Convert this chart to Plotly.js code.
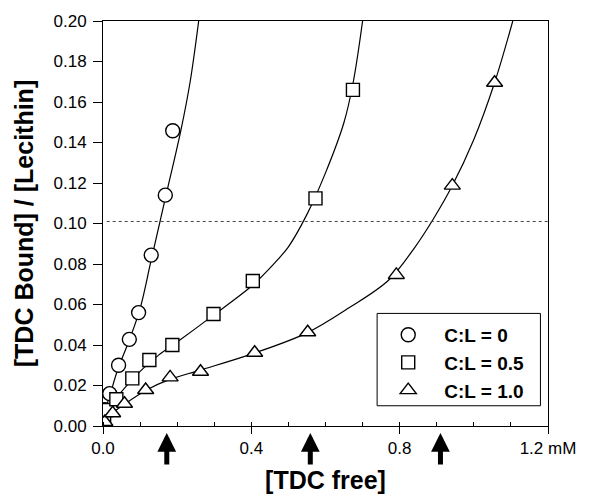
<!DOCTYPE html>
<html>
<head>
<meta charset="utf-8">
<script src="https://cdn.plot.ly/plotly-3.0.1.min.js"></script>
<style>html,body{margin:0;padding:0;background:#fff;}#chart{width:599px;height:503px;}</style>
</head>
<body>
<div id="chart"></div>
<script>
// Measured data points
const circleX = [0.001, 0.004, 0.018, 0.042, 0.071, 0.096, 0.130, 0.168, 0.188];
const circleY = [0.002, 0.008, 0.0160, 0.0300, 0.0428, 0.0560, 0.0844, 0.1140, 0.1458];
const squareX = [0.001, 0.003, 0.009, 0.036, 0.079, 0.125, 0.187, 0.298, 0.404, 0.573, 0.674];
const squareY = [0.001, 0.004, 0.0079, 0.0132, 0.0235, 0.0326, 0.0400, 0.0553, 0.0716, 0.1124, 0.1660];
const triX = [0.005, 0.026, 0.058, 0.115, 0.181, 0.263, 0.409, 0.552, 0.791, 0.942, 1.056];
const triY = [0.002, 0.0063, 0.0110, 0.0178, 0.0240, 0.0268, 0.0362, 0.0463, 0.0746, 0.1187, 0.1695];

// Fitted curves
const fitCircleX = [0, 0.010, 0.020, 0.040, 0.070, 0.100, 0.130, 0.170, 0.210, 0.235, 0.258];
const fitCircleY = [0, 0.010, 0.016, 0.028, 0.042, 0.058, 0.082, 0.114, 0.146, 0.170, 0.200];
const fitSquareX = [0, 0.020, 0.050, 0.100, 0.150, 0.200, 0.300, 0.400, 0.450, 0.500, 0.550, 0.600, 0.650, 0.675, 0.700];
const fitSquareY = [0, 0.010, 0.017, 0.027, 0.035, 0.0415, 0.055, 0.069, 0.078, 0.0885, 0.1045, 0.125, 0.150, 0.170, 0.200];
const fitTriX = [0, 0.020, 0.060, 0.120, 0.180, 0.260, 0.400, 0.550, 0.660, 0.770, 0.840, 0.890, 0.940, 1.000, 1.055, 1.105];
const fitTriY = [0, 0.0055, 0.0110, 0.0180, 0.0230, 0.0275, 0.0355, 0.0460, 0.0580, 0.0720, 0.0880, 0.1020, 0.1180, 0.1415, 0.1690, 0.2000];

const seriesNames = ['C:L = 0', 'C:L = 0.5', 'C:L = 1.0'];
const refLevel = 0.101;               // dotted reference level
const arrowX = [0.172, 0.559, 0.910]; // arrow positions on x axis
const yTickVals = [0, 0.02, 0.04, 0.06, 0.08, 0.10, 0.12, 0.14, 0.16, 0.18, 0.20];
const yTickText = ['0.00','0.02','0.04','0.06','0.08','0.10','0.12','0.14','0.16','0.18','0.20'];
const xTickVals = [0, 0.4, 0.8, 1.2];
const xTickText = ['0.0', '0.4', '0.8', '1.2 mM'];

const FONT = 'Liberation Sans, Arial, Helvetica, sans-serif';
const lineStyle = {color: '#000', width: 1.2, shape: 'spline', smoothing: 1};
function mk(sym, size) { return {symbol: sym, size: size, color: '#fff', line: {color: '#000', width: 1.4}}; }

const traces = [
  {x: fitCircleX, y: fitCircleY, mode: 'lines', line: lineStyle, showlegend: false, hoverinfo: 'skip'},
  {x: fitSquareX, y: fitSquareY, mode: 'lines', line: lineStyle, showlegend: false, hoverinfo: 'skip'},
  {x: fitTriX, y: fitTriY, mode: 'lines', line: lineStyle, showlegend: false, hoverinfo: 'skip'},
  {x: circleX, y: circleY, mode: 'markers', name: seriesNames[0], marker: mk('circle', 14)},
  {x: squareX, y: squareY, mode: 'markers', name: seriesNames[1], marker: mk('square', 13)},
  {x: triX, y: triY, mode: 'markers', name: seriesNames[2], marker: mk('triangle-up', 14)}
];

const annotations = arrowX.map(function (v) {
  return {x: v, xref: 'x', y: -0.017, yref: 'paper', ax: 0, ay: 33, text: '',
          showarrow: true, arrowhead: 2, arrowsize: 0.75, arrowwidth: 5, arrowcolor: '#000'};
});

const layout = {
  width: 599, height: 503,
  margin: {l: 103, r: 51, t: 21, b: 77},
  paper_bgcolor: '#fff', plot_bgcolor: '#fff',
  font: {family: FONT, color: '#000', size: 17},
  showlegend: true,
  legend: {x: 0.605, y: 0.272, xanchor: 'left', yanchor: 'top',
           borderwidth: 0, bgcolor: 'rgba(0,0,0,0)',
           font: {family: FONT, size: 19, weight: 'bold', color: '#000'},
           itemwidth: 62, tracegroupgap: 0},
  xaxis: {range: [0, 1.2], tickmode: 'array', tickvals: xTickVals, ticktext: xTickText,
          ticks: 'outside', ticklen: 7, tickwidth: 1, tickcolor: '#000', ticklabelstandoff: 0,
          minor: {dtick: 0.1, tick0: 0, ticks: 'inside', ticklen: 4, tickcolor: '#000', showgrid: false},
          showline: true, linecolor: '#000', linewidth: 1, mirror: true,
          showgrid: false, zeroline: false, tickfont: {size: 17, family: FONT},
          title: {text: '[TDC free]', font: {size: 25, weight: 'bold', family: FONT}, standoff: 14}},
  yaxis: {range: [0, 0.2], tickmode: 'array', tickvals: yTickVals, ticktext: yTickText,
          ticks: 'outside', ticklen: 9, tickwidth: 1, tickcolor: '#000', ticklabelstandoff: 3,
          showline: true, linecolor: '#000', linewidth: 1, mirror: true,
          showgrid: false, zeroline: false, tickfont: {size: 17, family: FONT},
          title: {text: '[TDC Bound] / [Lecithin]', font: {size: 25, weight: 'bold', family: FONT}, standoff: 12}},
  shapes: [
    {type: 'line', xref: 'x', yref: 'y', x0: 0.01, x1: 1.2, y0: refLevel, y1: refLevel,
     line: {color: '#444', width: 1, dash: 'dot'}},
    // legend frame
    {type: 'rect', xref: 'paper', yref: 'paper', x0: 0.616, x1: 0.983, y0: 0.050, y1: 0.278,
     line: {color: '#000', width: 1}, fillcolor: '#fff', layer: 'above'}
  ],
  annotations: annotations
};

Plotly.newPlot('chart', traces, layout, {displayModeBar: false, staticPlot: true});
</script>
</body>
</html>
